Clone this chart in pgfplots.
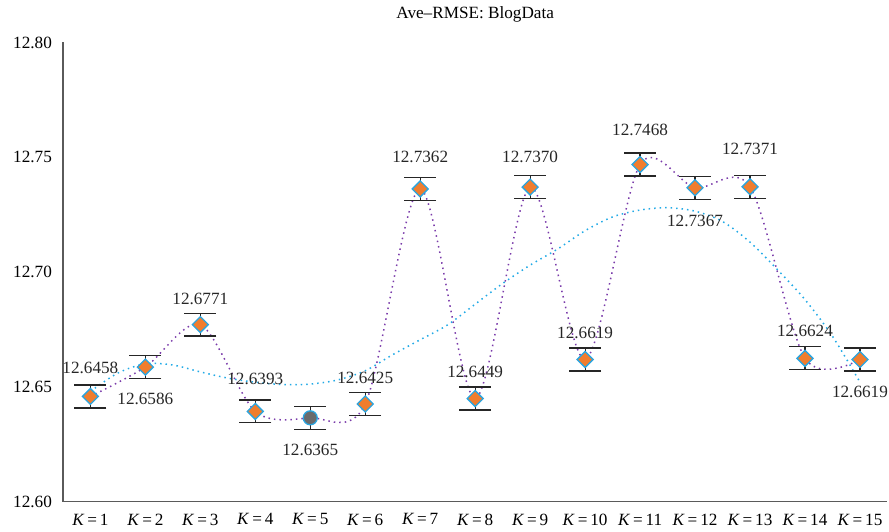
\documentclass[border=0pt]{standalone}
\usepackage{pgfplots}
\pgfplotsset{compat=1.18}
\usepackage{pgfplotstable}
\usepackage{fontspec}
\setmainfont{Liberation Serif}
\definecolor{orng}{HTML}{F07D2E}
\definecolor{blueo}{HTML}{2AA5E0}
\definecolor{purp}{HTML}{7A3BAA}
\definecolor{cyanl}{HTML}{22AAE6}
\definecolor{axgray}{HTML}{5A5A5A}
\definecolor{ptgray}{HTML}{6A6A6C}

\pgfplotstableread{
x y
1 12.6458
2 12.6586
3 12.6771
4 12.6393
5 12.6365
6 12.6425
7 12.7362
8 12.6449
9 12.7370
10 12.6619
11 12.7468
12 12.7367
13 12.7371
14 12.6624
15 12.6619
}\datatab

\pgfplotstableread{
x y
1 12.6480
1.5 12.6560
2 12.6600
2.5 12.6595
3 12.6565
3.5 12.6538
4 12.6520
4.5 12.6510
5 12.6512
5.5 12.6530
6 12.6570
6.5 12.6640
7 12.6705
7.5 12.6770
8 12.6860
8.5 12.6950
9 12.7030
9.5 12.7100
10 12.7180
10.5 12.7240
11 12.7270
11.5 12.7280
12 12.7265
12.5 12.7220
13 12.7130
13.5 12.7010
14 12.6880
14.5 12.6720
15 12.6520
}\trendtab

\begin{document}
\begin{tikzpicture}[font=\fontsize{8.6}{10}\selectfont]
\begin{axis}[
  scale only axis,
  width=413pt, height=230pt,
  xmin=0.5, xmax=15.5,
  ymin=12.60, ymax=12.80,
  axis lines*=left,
  axis line style={axgray, line width=0.8pt, -},
  major tick length=0pt,
  xtick={1,...,15},
  xticklabels={\textit{K}\,=\,1,\textit{K}\,=\,2,\textit{K}\,=\,3,\textit{K}\,=\,4,\textit{K}\,=\,5,\textit{K}\,=\,6,\textit{K}\,=\,7,\textit{K}\,=\,8,\textit{K}\,=\,9,\textit{K}\,=\,10,\textit{K}\,=\,11,\textit{K}\,=\,12,\textit{K}\,=\,13,\textit{K}\,=\,14,\textit{K}\,=\,15},
  xticklabel style={yshift=-2.5pt},
  ytick={12.60,12.65,12.70,12.75,12.80},
  yticklabel style={xshift=-2pt, /pgf/number format/.cd, fixed, precision=2, fixed zerofill, assume math mode=true},
  title={Ave–RMSE: BlogData},
  title style={at={(0.5,1)}, anchor=center, yshift=8pt},
  clip=false,
]
\addplot[cyanl, dotted, line width=0.75pt, smooth, no marks] table[x=x,y=y]{\trendtab};
\addplot[purp, dotted, line width=0.75pt, smooth, no marks] table[x=x,y=y]{\datatab};
\addplot[draw=none, mark=none,
  error bars/.cd, y dir=both, y fixed=0.005,
  error bar style={black!85, line width=0.6pt},
  error mark options={black!85, line width=0.6pt, mark size=8pt, rotate=90}]
  table[x=x,y=y]{\datatab};
\addplot[draw=none, mark=square*, mark size=2.83pt,
  mark options={fill=orng, draw=blueo, line width=0.65pt, rotate=45},
  skip coords between index={4}{5}]
  table[x=x,y=y]{\datatab};
\addplot[draw=none, mark=*, mark size=3.5pt, mark options={fill=ptgray, draw=blueo, line width=0.65pt}] coordinates {(5,12.6365)};
\begin{scope}[every node/.style={anchor=center, text=black!85, inner sep=0pt}]
\node[yshift=14.5pt] at (axis cs:1,12.6458) {12.6458};
\node[yshift=-16pt] at (axis cs:2,12.6586) {12.6586};
\node[yshift=13pt] at (axis cs:3,12.6771) {12.6771};
\node[yshift=16.5pt] at (axis cs:4,12.6393) {12.6393};
\node[yshift=-16pt] at (axis cs:5,12.6365) {12.6365};
\node[yshift=13pt] at (axis cs:6,12.6425) {12.6425};
\node[yshift=16pt] at (axis cs:7,12.7362) {12.7362};
\node[yshift=13.5pt] at (axis cs:8,12.6449) {12.6449};
\node[yshift=15pt] at (axis cs:9,12.7370) {12.7370};
\node[yshift=13.5pt] at (axis cs:10,12.6619) {12.6619};
\node[yshift=17.5pt] at (axis cs:11,12.7468) {12.7468};
\node[yshift=-16.5pt] at (axis cs:12,12.7367) {12.7367};
\node[yshift=19pt] at (axis cs:13,12.7371) {12.7371};
\node[yshift=13.5pt] at (axis cs:14,12.6624) {12.6624};
\node[yshift=-16pt] at (axis cs:15,12.6619) {12.6619};
\end{scope}
\end{axis}
\path (current axis.south west) ++(-31.5pt,-14.5pt);
\path (current axis.north east) ++(0,15pt);
\end{tikzpicture}
\end{document}
